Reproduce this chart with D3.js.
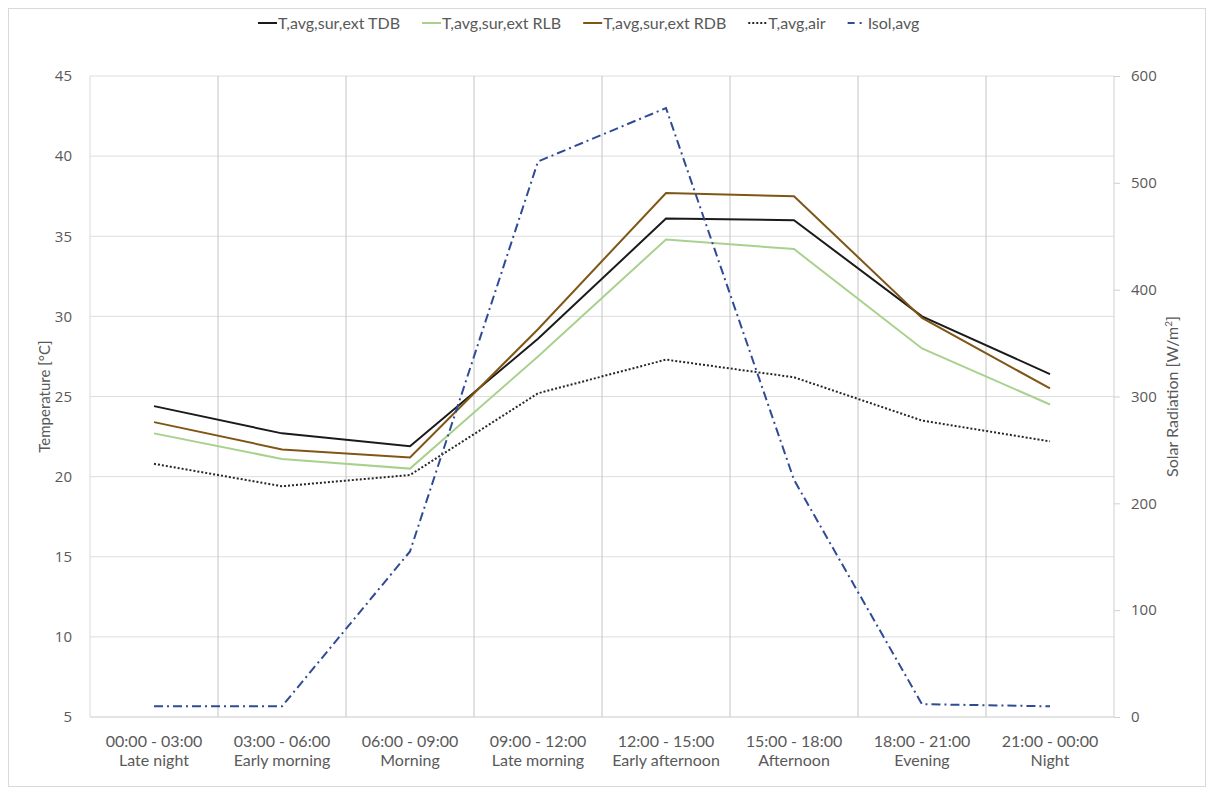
<!DOCTYPE html>
<html>
<head>
<meta charset="utf-8">
<script src="https://cdn.jsdelivr.net/npm/d3@7"></script>
<style>
  body { margin: 0; background: #fff; }
  svg text { font-family: "Open Sans", "Liberation Sans", sans-serif; }
  .lato { font-family: Lato, "Open Sans", sans-serif; }
</style>
</head>
<body>
<div id="chart"></div>
<script>
// periods of the day
const periods = ["00:00 - 03:00", "03:00 - 06:00", "06:00 - 09:00", "09:00 - 12:00",
                 "12:00 - 15:00", "15:00 - 18:00", "18:00 - 21:00", "21:00 - 00:00"];
const periodNames = ["Late night", "Early morning", "Morning", "Late morning",
                     "Early afternoon", "Afternoon", "Evening", "Night"];

// temperatures [°C]
const tdb = [24.4, 22.7, 21.9, 28.6, 36.1, 36.0, 30.0, 26.4];
const rlb = [22.7, 21.1, 20.5, 27.5, 34.8, 34.2, 28.0, 24.5];
const rdb = [23.4, 21.7, 21.2, 29.2, 37.7, 37.5, 29.9, 25.5];
const air = [20.8, 19.4, 20.1, 25.2, 27.3, 26.2, 23.5, 22.2];
// solar radiation [W/m2]
const isol = [10, 10, 155, 520, 570, 222, 12, 10];

const tempTicks = [5, 10, 15, 20, 25, 30, 35, 40, 45];
const solTicks = [0, 100, 200, 300, 400, 500, 600];

const W = 1214, H = 795;
const margin = { top: 76, right: 100, bottom: 78, left: 90 };
const width = W - margin.left - margin.right;
const height = H - margin.top - margin.bottom;

const svg = d3.select("#chart").append("svg")
  .attr("width", W).attr("height", H);

// chart frame
svg.append("rect")
  .attr("x", 8.5).attr("y", 8.5)
  .attr("width", W - 17).attr("height", H - 17)
  .attr("fill", "#fff").attr("stroke", "#d9d9d9");

const g = svg.append("g")
  .attr("transform", `translate(${margin.left},${margin.top})`);

const x = d3.scaleBand().domain(periods).range([0, width]);
const y = d3.scaleLinear().domain([5, 45]).range([height, 0]);
const y2 = d3.scaleLinear().domain([0, 600]).range([height, 0]);

// horizontal gridlines
g.append("g")
  .selectAll("line").data(tempTicks).join("line")
  .attr("x1", 0).attr("x2", width)
  .attr("y1", d => y(d)).attr("y2", d => y(d))
  .attr("stroke", "#dedede").attr("stroke-width", 1);

// vertical category separators
g.append("g")
  .selectAll("line").data(periods.slice(1)).join("line")
  .attr("x1", d => x(d)).attr("x2", d => x(d))
  .attr("y1", 0).attr("y2", height)
  .attr("stroke", "#c4c4c4").attr("stroke-width", 1);

// axis lines
g.append("line").attr("x1", 0).attr("x2", 0).attr("y1", 0).attr("y2", height)
  .attr("stroke", "#d9d9d9");
g.append("line").attr("x1", 0).attr("x2", width).attr("y1", height).attr("y2", height)
  .attr("stroke", "#d9d9d9");
g.append("line").attr("x1", width).attr("x2", width).attr("y1", 0).attr("y2", height)
  .attr("stroke", "#d0d0d0");

// left axis
const yAxis = g.append("g")
  .call(d3.axisLeft(y).tickValues(tempTicks).tickSize(0).tickPadding(18));
yAxis.select(".domain").remove();
yAxis.selectAll("text").attr("fill", "#595959").style("font-size", "15px");

// right axis
const yAxis2 = g.append("g")
  .attr("transform", `translate(${width},0)`)
  .call(d3.axisRight(y2).tickValues(solTicks).tickSize(6).tickPadding(11));
yAxis2.select(".domain").remove();
yAxis2.selectAll("line").attr("stroke", "#d0d0d0");
yAxis2.selectAll("text").attr("fill", "#595959").style("font-size", "15px");

// category labels
const cat = g.append("g").attr("class", "lato")
  .selectAll("text").data(periods).join("text")
  .attr("class", "lato")
  .attr("x", d => x(d) + x.bandwidth() / 2)
  .attr("y", height + 30)
  .attr("text-anchor", "middle")
  .attr("fill", "#595959")
  .style("font-size", "16px");
cat.append("tspan").attr("x", d => x(d) + x.bandwidth() / 2).text(d => d);
cat.append("tspan").attr("x", d => x(d) + x.bandwidth() / 2).attr("dy", 19)
  .text((d, i) => periodNames[i]);

// axis titles
svg.append("text")
  .attr("class", "lato")
  .attr("transform", `translate(50,${margin.top + height / 2}) rotate(-90)`)
  .attr("text-anchor", "middle").attr("fill", "#595959")
  .style("font-size", "15px")
  .text("Temperature [°C]");
svg.append("text")
  .attr("class", "lato")
  .attr("transform", `translate(1178,${margin.top + height / 2}) rotate(-90)`)
  .attr("text-anchor", "middle").attr("fill", "#595959")
  .style("font-size", "16px")
  .html("Solar Radiation [W/m<tspan dy='-6' font-size='10px'>2</tspan><tspan dy='6'>]</tspan>");

// series
const series = [
  { name: "T,avg,sur,ext TDB", values: tdb, scale: y, color: "#1a1a1a", dash: null, key: null },
  { name: "T,avg,sur,ext RLB", values: rlb, scale: y, color: "#a9d18e", dash: null, key: null },
  { name: "T,avg,sur,ext RDB", values: rdb, scale: y, color: "#7f5616", dash: null, key: null },
  { name: "T,avg,air", values: air, scale: y, color: "#262626", dash: "2,2", key: "2,2" },
  { name: "Isol,avg", values: isol, scale: y2, color: "#2f4b96", dash: "9,4,2,4", key: "7,5,2,6" }
];

const cx = (d, i) => x(periods[i]) + x.bandwidth() / 2;

series.forEach(s => {
  const line = d3.line().x(cx).y(d => s.scale(d));
  g.append("path")
    .datum(s.values)
    .attr("d", line)
    .attr("fill", "none")
    .attr("stroke", s.color)
    .attr("stroke-width", 2)
    .attr("stroke-dasharray", s.dash);
});

// legend
const legend = svg.append("g").attr("transform", "translate(258,23)");
let lx = 0;
series.forEach(s => {
  const item = legend.append("g").attr("transform", `translate(${lx},0)`);
  item.append("line")
    .attr("x1", 0).attr("x2", 19).attr("y1", 0).attr("y2", 0)
    .attr("stroke", s.color).attr("stroke-width", 2)
    .attr("stroke-dasharray", s.key);
  const t = item.append("text")
    .attr("class", "lato")
    .attr("x", 20).attr("y", 5.5)
    .attr("fill", "#595959")
    .style("font-size", "16px")
    .text(s.name);
  lx += 20 + t.node().getComputedTextLength() + 22;
});
</script>
</body>
</html>
